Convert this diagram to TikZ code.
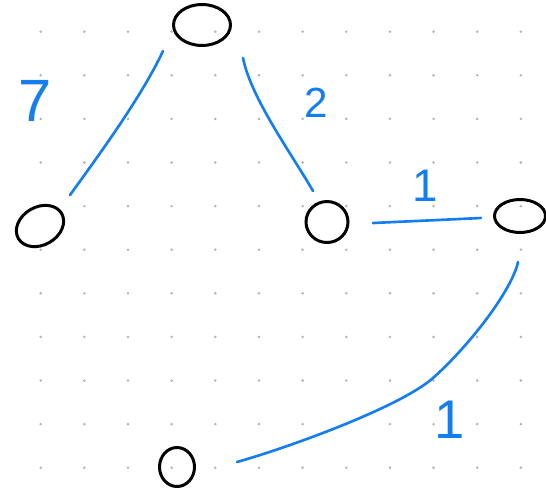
\documentclass[tikz,border=0pt]{standalone}
\usepackage{fontspec}
\setmainfont{Liberation Sans}
\usetikzlibrary{calc,shapes.geometric}
\definecolor{ink}{RGB}{20,125,240}
\definecolor{griddot}{RGB}{180,180,180}

\begin{document}
\begin{tikzpicture}[x=0.02cm, y=-0.02cm,
  vtx/.style={draw, ellipse, line width=1.7pt, inner sep=0pt},
  edge/.style={draw=ink, line width=1.5pt, line cap=round},
  wt/.style={text=ink, inner sep=0pt}]
  \useasboundingbox (0,0) rectangle (546,490);
  \fill[white] (0,0) rectangle (546,490);
  % dot grid
  \foreach \i in {0,...,11}
    \foreach \j in {0,...,10}
      \fill[griddot] (40.7+43.65*\i, 31.7+43.6*\j) circle[radius=0.8pt];
  % vertices
  \node[vtx, minimum width=1.14cm, minimum height=0.82cm] (top) at (202,25) {};
  \node[vtx, minimum width=1.0cm, minimum height=0.76cm, rotate=30] (lft) at (40,226) {};
  \node[vtx, minimum width=0.84cm, minimum height=0.82cm] (mid) at (327,222) {};
  \node[vtx, minimum width=1.02cm, minimum height=0.66cm] (rgt) at (520,216) {};
  \node[vtx, minimum width=0.7cm, minimum height=0.78cm] (bot) at (177,467) {};
  % edges
  \draw[edge] ($(top)+(-39,26)$) .. controls +(-21,45) and +(29,-40) .. ($(lft)+(30,-31)$);
  \draw[edge] ($(top)+(41,33)$) .. controls +(8,40) and +(-22,-38) .. ($(mid)+(-14,-31)$);
  \draw[edge] ($(mid)+(46,1)$) -- ($(rgt)+(-39,2)$);
  \draw[edge] ($(rgt)+(-2,46)$) .. controls (512,290) and (470,345) .. (433,378)
    .. controls (400,407) and (290,447) .. ($(bot)+(60,-5)$);
  % weights
  \node[wt, font=\fontsize{34}{34}\selectfont] (w7) at (35,101) {7};
  \node[wt, font=\fontsize{24}{24}\selectfont] (w2) at (316,103) {2};
  \node[wt, font=\fontsize{26}{26}\selectfont] (w1a) at (425,186) {1};
  \node[wt, font=\fontsize{31}{31}\selectfont] (w1b) at (450,420) {1};
\end{tikzpicture}
\end{document}
